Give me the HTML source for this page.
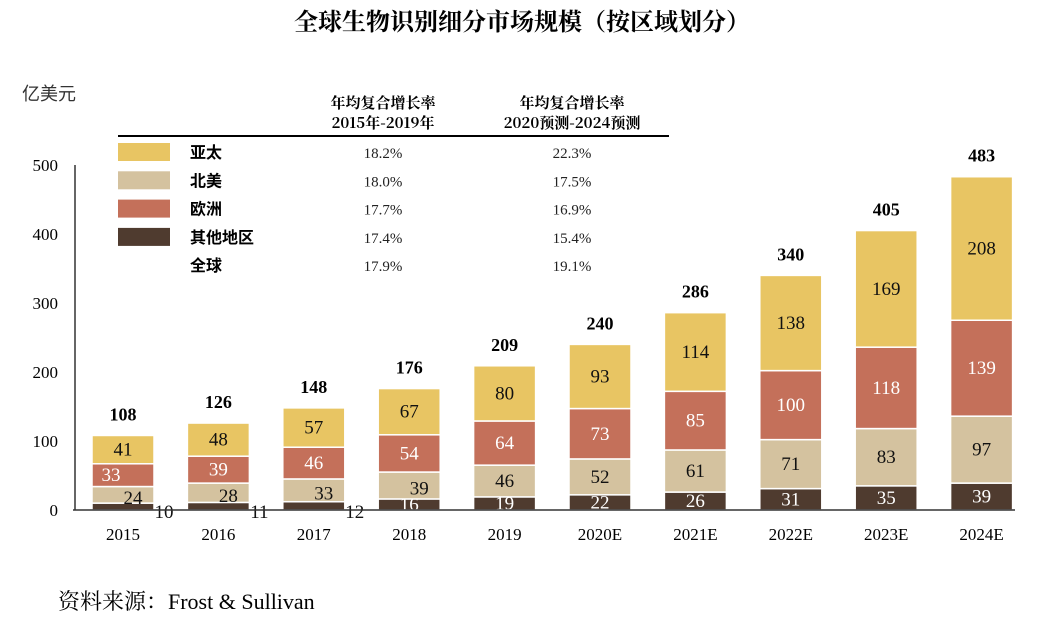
<!DOCTYPE html>
<html><head><meta charset="utf-8"><style>
body{margin:0;background:#fff;width:1044px;height:619px;overflow:hidden}
svg{font-family:"Liberation Serif","Noto Serif CJK SC",serif}
.cn{font-family:"Liberation Sans","Noto Sans CJK SC",sans-serif}
</style></head><body>
<svg id="c" width="1044" height="619">
<text x="522" y="30" text-anchor="middle" font-size="24" font-weight="bold" font-family="'Noto Serif CJK SC',serif">全球生物识别细分市场规模（按区域划分）</text>
<text x="22" y="100" font-size="18" class="cn" fill="#333">亿美元</text>
<text x="58" y="609" font-size="22" font-family="'Liberation Serif','Noto Serif CJK SC',serif">资料来源：Frost &amp; Sullivan</text>
<g id="legend">
<text x="383" y="108" text-anchor="middle" font-size="15" font-weight="bold" font-family="'Noto Serif CJK SC',serif">年均复合增长率</text>
<text x="383" y="128" text-anchor="middle" font-size="15" font-weight="bold" font-family="'Noto Serif CJK SC',serif">2015年-2019年</text>
<text x="572" y="108" text-anchor="middle" font-size="15" font-weight="bold" font-family="'Noto Serif CJK SC',serif">年均复合增长率</text>
<text x="572" y="128" text-anchor="middle" font-size="15" font-weight="bold" font-family="'Noto Serif CJK SC',serif">2020预测-2024预测</text>
<line x1="118" y1="136" x2="669" y2="136" stroke="#000" stroke-width="2"/>
</g>
<g id="g"></g>
</svg>
<script>
const years=['2015','2016','2017','2018','2019','2020E','2021E','2022E','2023E','2024E'];
const other=[10,11,12,16,19,22,26,31,35,39];
const na=[24,28,33,39,46,52,61,71,83,97];
const eu=[33,39,46,54,64,73,85,100,118,139];
const ap=[41,48,57,67,80,93,114,138,169,208];
const totals=[108,126,148,176,209,240,286,340,405,483];
const yTicks=[0,100,200,300,400,500];
const regions=['亚太','北美','欧洲','其他地区','全球'];
const cagr1=['18.2%','18.0%','17.7%','17.4%','17.9%'];
const cagr2=['22.3%','17.5%','16.9%','15.4%','19.1%'];
const colors=['#E8C563','#D4C29F','#C4705A','#4F3B2F',null];
const NS='http://www.w3.org/2000/svg';
const g=document.getElementById('g');
const lg=document.getElementById('legend');
function el(t,a,p){const e=document.createElementNS(NS,t);for(const k in a)e.setAttribute(k,a[k]);(p||g).appendChild(e);return e;}
const y=v=>510-v*0.69;
const x=i=>92+i*95.4;
const bw=62;
regions.forEach((r,i)=>{
 const cy=152+i*28.3;
 if(colors[i]){const s=el('rect',{x:118,y:cy-9,width:52,height:18,fill:colors[i]},lg);
 
 }
 const t=el('text',{x:190,y:cy+6,'font-size':16,'font-weight':'bold','font-family':"'Noto Sans CJK SC',sans-serif"},lg);t.textContent=r;
 
 
 const a=el('text',{x:383,y:cy+6,'text-anchor':'middle','font-size':15,fill:'#222'},lg);a.textContent=cagr1[i];
 
 
 const b=el('text',{x:572,y:cy+6,'text-anchor':'middle','font-size':15,fill:'#222'},lg);b.textContent=cagr2[i];
 
 
});
yTicks.forEach(v=>{const t=el('text',{x:58,y:y(v)+6,'text-anchor':'end','font-size':17});t.textContent=v;
 
 });
const ax=el('line',{x1:75,y1:165,x2:75,y2:510,stroke:'#333','stroke-width':1.5});


years.forEach((yr,i)=>{
 const segs=[other[i],na[i],eu[i],ap[i]];
 const cols=['#4F3B2F','#D4C29F','#C4705A','#E8C563'];
 const names=['other','north-america','europe','asia-pacific'];
 let base=0;
 segs.forEach((v,k)=>{
  const r=el('rect',{x:x(i),y:y(base+v),width:bw,height:v*0.69,fill:cols[k],stroke:'#fff','stroke-width':1.5});
  
  
  let lx=x(i)+bw/2,ly=y(base+v/2)+6,fill=(k==0||k==2)?'#fff':'#111';
  if(k==0&&i<3){lx=x(i)+bw+10;ly=y(0)+8;fill='#111';}
  if(k==1&&i<4){lx=x(i)+bw/2+10;ly=y(base+v/2)+9;}
  if(k==2&&i==0){lx=x(i)+bw/2-12;}
  const t=el('text',{x:lx,y:ly,'text-anchor':'middle','font-size':19,fill:fill});t.textContent=v;
  
  
  base+=v;
 });
 const tt=el('text',{x:x(i)+bw/2,y:y(totals[i])-15,'text-anchor':'middle','font-size':18,'font-weight':'bold'});tt.textContent=totals[i];
 
 
 const xl=el('text',{x:x(i)+bw/2,y:540,'text-anchor':'middle','font-size':17});xl.textContent=yr;
 
 
});
const xa=el('line',{x1:73,y1:510,x2:1015,y2:510,stroke:'#333','stroke-width':1.5});


</script>
</body></html>
